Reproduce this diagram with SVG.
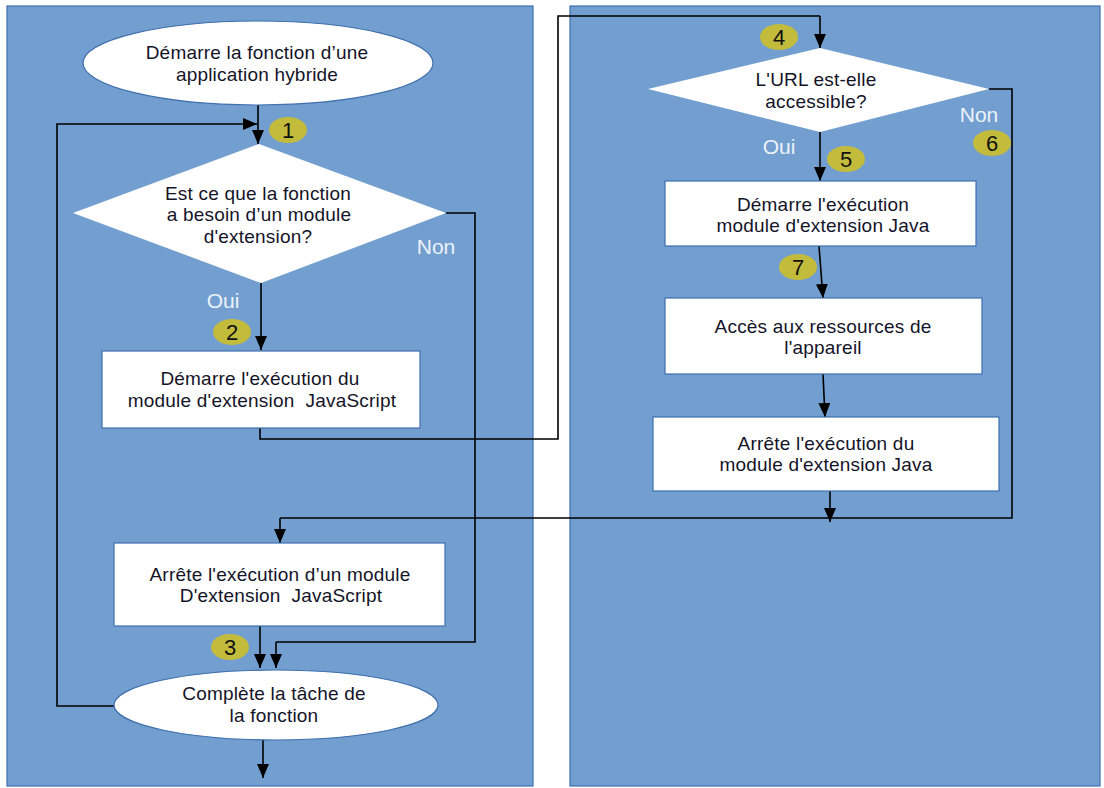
<svg xmlns="http://www.w3.org/2000/svg" width="1104" height="788" viewBox="0 0 1104 788">
<defs>
<marker id="ah" markerUnits="userSpaceOnUse" markerWidth="14" markerHeight="16" refX="14" refY="6" orient="auto">
<path d="M0,0 L14,6 L0,12 Z" fill="#000"/>
</marker>
</defs>
<style>
.panel{fill:#729fcf;stroke:#3f6fae;stroke-width:1.2}
.node{fill:#fff;stroke:#3f6fae;stroke-width:1.2}
.dia{fill:#fff;stroke:none}
.t{font-family:"Liberation Sans",Arial,sans-serif;font-size:19px;letter-spacing:0.2px;fill:#141428;text-anchor:middle;white-space:pre}
.lbl{font-family:"Liberation Sans",Arial,sans-serif;font-size:21px;fill:#eef2fa;text-anchor:middle}
.badge ellipse{fill:#c2bb3c}
.badge text{font-family:"Liberation Sans",Arial,sans-serif;font-size:22px;fill:#111;text-anchor:middle}
.c{fill:none;stroke:#000;stroke-width:1.6}
.ca{fill:none;stroke:#000;stroke-width:1.6;marker-end:url(#ah)}
</style>
<rect class="panel" x="7" y="6" width="526" height="780"/>
<rect class="panel" x="570" y="6" width="530" height="780"/>

<g id="connectors">
<path class="ca" d="M258,104 V144"/>
<path class="ca" d="M114,706 H57 V124 H257"/>
<path class="ca" d="M261,283 V350"/>
<path class="c" d="M446,213 H475 V642 H276"/>
<path class="ca" d="M276,642 V668"/>
<path class="ca" d="M260,626 V668"/>
<path class="c" d="M260,428 V439 H558 V16 H820"/>
<path class="ca" d="M820,16 V48"/>
<path class="ca" d="M820,132 V181"/>
<path class="ca" d="M819,246 L823,298"/>
<path class="ca" d="M823,374 L825,417"/>
<path class="ca" d="M830,491 V522"/>
<path class="c" d="M989,89 H1012 V518 H280"/>
<path class="ca" d="M280,518 V543"/>
<path class="ca" d="M263,740 V778"/>
</g>

<g id="start">
<ellipse class="node" cx="258" cy="63" rx="175" ry="42"/>
<text class="t" x="257" y="59">Démarre la fonction d’une</text>
<text class="t" x="257" y="81">application hybride</text>
</g>

<g id="decision1">
<polygon class="dia" points="259,144 446,213 261,283 73,213"/>
<text class="t" x="258" y="200">Est ce que la fonction</text>
<text class="t" x="259" y="221">a besoin d’un module</text>
<text class="t" x="258" y="243">d'extension?</text>
</g>

<g id="startJS">
<rect class="node" x="102" y="351" width="318" height="77"/>
<text class="t" x="260" y="385">Démarre l'exécution du</text>
<text class="t" x="262" y="407">module d'extension  JavaScript</text>
</g>

<g id="stopJS">
<rect class="node" x="114" y="543" width="331" height="83"/>
<text class="t" x="280" y="581">Arrête l'exécution d’un module</text>
<text class="t" x="281" y="602">D'extension  JavaScript</text>
</g>

<g id="complete">
<ellipse class="node" cx="276" cy="705" rx="162" ry="35"/>
<text class="t" x="274" y="700">Complète la tâche de</text>
<text class="t" x="274" y="722">la fonction</text>
</g>

<g id="decision2">
<polygon class="dia" points="820,48 989,89 820,132 648,89"/>
<text class="t" x="816" y="86">L'URL est-elle</text>
<text class="t" x="816" y="108">accessible?</text>
</g>

<g id="startJava">
<rect class="node" x="665" y="181" width="311" height="65"/>
<text class="t" x="823" y="211">Démarre l'exécution</text>
<text class="t" x="823" y="232">module d'extension Java</text>
</g>

<g id="access">
<rect class="node" x="665" y="298" width="317" height="76"/>
<text class="t" x="823" y="333">Accès aux ressources de</text>
<text class="t" x="823" y="354">l'appareil</text>
</g>

<g id="stopJava">
<rect class="node" x="653" y="417" width="346" height="74"/>
<text class="t" x="826" y="450">Arrête l'exécution du</text>
<text class="t" x="826" y="471">module d'extension Java</text>
</g>

<g id="labels">
<text class="lbl" x="436" y="254">Non</text>
<text class="lbl" x="223" y="308">Oui</text>
<text class="lbl" x="779" y="154">Oui</text>
<text class="lbl" x="979" y="122">Non</text>
</g>

<g id="badges">
<g class="badge"><ellipse cx="288" cy="130" rx="19" ry="13"/><text x="288" y="138">1</text></g>
<g class="badge"><ellipse cx="232" cy="332" rx="19" ry="13"/><text x="232" y="340">2</text></g>
<g class="badge"><ellipse cx="230" cy="647" rx="19" ry="13"/><text x="230" y="655">3</text></g>
<g class="badge"><ellipse cx="779" cy="37" rx="19" ry="13"/><text x="779" y="45">4</text></g>
<g class="badge"><ellipse cx="846" cy="159" rx="19" ry="13"/><text x="846" y="167">5</text></g>
<g class="badge"><ellipse cx="992" cy="143" rx="19" ry="13"/><text x="992" y="151">6</text></g>
<g class="badge"><ellipse cx="798" cy="267" rx="19" ry="13"/><text x="798" y="275">7</text></g>
</g>
</svg>
